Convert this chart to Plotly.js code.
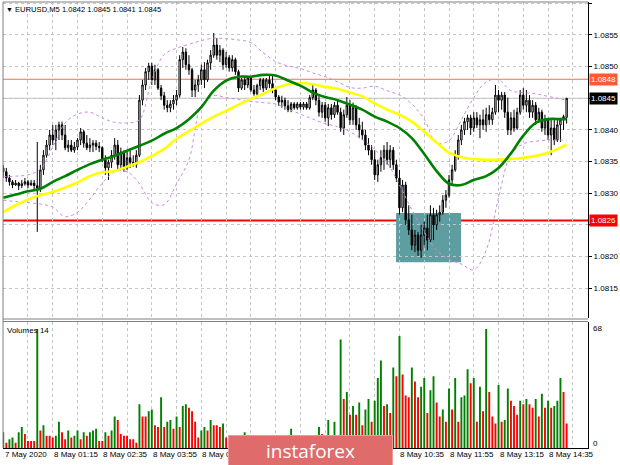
<!DOCTYPE html>
<html><head><meta charset="utf-8">
<script src="https://cdn.plot.ly/plotly-3.0.1.min.js"></script>
<style>html,body{margin:0;padding:0;background:#fff;}#chart{width:620px;height:465px;}</style>
</head><body><div id="chart"></div>
<script>
// EURUSD M5 — bar index 0 = 8 May 00:35, first bar (-8) = 7 May 23:55
const firstBar = -8;
const open = [
1.08340,1.08334,1.08324,1.08318,1.08313,1.08316,1.08312,1.08315,1.08318,1.08313,
1.08316,1.08312,1.08308,1.08337,1.08360,1.08376,1.08392,1.08384,1.08400,1.08408,
1.08392,1.08372,1.08376,1.08368,1.08373,1.08384,1.08397,1.08379,1.08372,1.08376,
1.08379,1.08374,1.08372,1.08353,1.08340,1.08349,1.08360,1.08376,1.08345,1.08365,
1.08340,1.08356,1.08349,1.08345,1.08360,1.08447,1.08471,1.08492,1.08501,1.08479,
1.08495,1.08466,1.08454,1.08439,1.08435,1.08441,1.08447,1.08455,1.08511,1.08523,
1.08503,1.08495,1.08463,1.08471,1.08479,1.08495,1.08479,1.08506,1.08518,1.08534,
1.08518,1.08526,1.08503,1.08514,1.08498,1.08511,1.08492,1.08466,1.08479,1.08471,
1.08482,1.08463,1.08457,1.08470,1.08479,1.08466,1.08479,1.08473,1.08463,1.08452,
1.08444,1.08447,1.08438,1.08432,1.08441,1.08435,1.08441,1.08436,1.08441,1.08435,
1.08451,1.08463,1.08447,1.08428,1.08439,1.08419,1.08435,1.08424,1.08439,1.08428,
1.08403,1.08424,1.08439,1.08416,1.08435,1.08408,1.08400,1.08392,1.08376,1.08368,
1.08353,1.08329,1.08345,1.08356,1.08368,1.08353,1.08368,1.08345,1.08324,1.08277,
1.08313,1.08258,1.08242,1.08218,1.08234,1.08210,1.08234,1.08245,1.08226,1.08266,
1.08250,1.08266,1.08270,1.08289,1.08297,1.08321,1.08337,1.08360,1.08384,1.08400,
1.08413,1.08419,1.08403,1.08419,1.08408,1.08416,1.08408,1.08424,1.08416,1.08428,
1.08455,1.08447,1.08455,1.08428,1.08400,1.08419,1.08403,1.08428,1.08455,1.08439,
1.08447,1.08428,1.08439,1.08416,1.08428,1.08403,1.08416,1.08392,1.08403,1.08384,
1.08408,1.08416,1.08420];
const high = [
1.08345,1.08340,1.08329,1.08321,1.08321,1.08318,1.08321,1.08324,1.08321,1.08321,
1.08321,1.08381,1.08345,1.08368,1.08384,1.08400,1.08408,1.08408,1.08413,1.08413,
1.08408,1.08384,1.08384,1.08381,1.08387,1.08403,1.08400,1.08392,1.08387,1.08384,
1.08384,1.08381,1.08374,1.08360,1.08353,1.08368,1.08387,1.08384,1.08372,1.08368,
1.08365,1.08368,1.08360,1.08368,1.08455,1.08479,1.08498,1.08506,1.08506,1.08503,
1.08498,1.08471,1.08460,1.08447,1.08447,1.08455,1.08463,1.08518,1.08531,1.08529,
1.08518,1.08498,1.08479,1.08487,1.08503,1.08507,1.08511,1.08526,1.08553,1.08545,
1.08534,1.08529,1.08523,1.08518,1.08518,1.08514,1.08495,1.08482,1.08485,1.08485,
1.08485,1.08471,1.08473,1.08482,1.08482,1.08482,1.08485,1.08485,1.08466,1.08455,
1.08454,1.08451,1.08447,1.08444,1.08444,1.08444,1.08444,1.08444,1.08444,1.08455,
1.08471,1.08466,1.08454,1.08444,1.08444,1.08441,1.08441,1.08444,1.08447,1.08435,
1.08432,1.08452,1.08447,1.08443,1.08439,1.08419,1.08413,1.08400,1.08387,1.08376,
1.08368,1.08353,1.08368,1.08376,1.08381,1.08376,1.08373,1.08353,1.08337,1.08321,
1.08318,1.08281,1.08266,1.08242,1.08239,1.08250,1.08255,1.08266,1.08281,1.08277,
1.08274,1.08281,1.08297,1.08305,1.08329,1.08345,1.08368,1.08392,1.08408,1.08419,
1.08424,1.08424,1.08428,1.08428,1.08424,1.08432,1.08435,1.08439,1.08435,1.08471,
1.08463,1.08460,1.08460,1.08451,1.08428,1.08432,1.08435,1.08463,1.08466,1.08463,
1.08455,1.08447,1.08444,1.08435,1.08432,1.08424,1.08419,1.08416,1.08419,1.08416,
1.08419,1.08424,1.08450];
const low = [
1.08324,1.08318,1.08312,1.08308,1.08312,1.08305,1.08308,1.08312,1.08308,1.08312,
1.08305,1.08239,1.08302,1.08329,1.08356,1.08368,1.08376,1.08368,1.08384,1.08384,
1.08368,1.08365,1.08365,1.08364,1.08368,1.08376,1.08372,1.08368,1.08365,1.08365,
1.08368,1.08365,1.08349,1.08329,1.08321,1.08340,1.08353,1.08337,1.08337,1.08334,
1.08337,1.08340,1.08342,1.08340,1.08357,1.08439,1.08463,1.08479,1.08471,1.08471,
1.08463,1.08447,1.08432,1.08428,1.08428,1.08432,1.08439,1.08451,1.08498,1.08495,
1.08487,1.08452,1.08452,1.08460,1.08471,1.08466,1.08476,1.08495,1.08514,1.08511,
1.08507,1.08495,1.08498,1.08492,1.08492,1.08487,1.08460,1.08463,1.08463,1.08466,
1.08460,1.08454,1.08454,1.08463,1.08460,1.08463,1.08466,1.08458,1.08447,1.08438,
1.08435,1.08432,1.08428,1.08428,1.08432,1.08432,1.08432,1.08432,1.08432,1.08432,
1.08447,1.08439,1.08421,1.08419,1.08413,1.08406,1.08416,1.08419,1.08424,1.08397,
1.08392,1.08419,1.08408,1.08408,1.08400,1.08387,1.08384,1.08368,1.08360,1.08345,
1.08321,1.08318,1.08334,1.08337,1.08345,1.08340,1.08337,1.08318,1.08266,1.08270,
1.08250,1.08234,1.08210,1.08207,1.08201,1.08198,1.08218,1.08210,1.08223,1.08226,
1.08242,1.08255,1.08266,1.08277,1.08293,1.08313,1.08334,1.08353,1.08376,1.08392,
1.08400,1.08392,1.08397,1.08403,1.08387,1.08400,1.08397,1.08408,1.08408,1.08424,
1.08428,1.08432,1.08419,1.08392,1.08392,1.08397,1.08400,1.08424,1.08432,1.08428,
1.08419,1.08419,1.08408,1.08413,1.08397,1.08392,1.08384,1.08360,1.08376,1.08381,
1.08381,1.08400,1.08410];
const close = [
1.08334,1.08324,1.08318,1.08313,1.08316,1.08312,1.08315,1.08318,1.08313,1.08316,
1.08312,1.08308,1.08337,1.08360,1.08376,1.08392,1.08384,1.08400,1.08408,1.08392,
1.08372,1.08376,1.08368,1.08373,1.08384,1.08397,1.08379,1.08372,1.08376,1.08379,
1.08374,1.08372,1.08353,1.08340,1.08349,1.08360,1.08376,1.08345,1.08365,1.08340,
1.08356,1.08349,1.08345,1.08360,1.08447,1.08471,1.08492,1.08501,1.08479,1.08495,
1.08466,1.08454,1.08439,1.08435,1.08441,1.08447,1.08455,1.08511,1.08523,1.08503,
1.08495,1.08463,1.08471,1.08479,1.08495,1.08479,1.08506,1.08518,1.08534,1.08518,
1.08526,1.08503,1.08514,1.08498,1.08511,1.08492,1.08466,1.08479,1.08471,1.08482,
1.08463,1.08457,1.08470,1.08479,1.08466,1.08479,1.08473,1.08463,1.08452,1.08444,
1.08447,1.08438,1.08432,1.08441,1.08435,1.08441,1.08436,1.08441,1.08435,1.08451,
1.08463,1.08447,1.08428,1.08439,1.08419,1.08435,1.08424,1.08439,1.08428,1.08403,
1.08424,1.08439,1.08416,1.08435,1.08408,1.08400,1.08392,1.08376,1.08368,1.08353,
1.08329,1.08345,1.08356,1.08368,1.08353,1.08368,1.08345,1.08324,1.08277,1.08313,
1.08258,1.08242,1.08218,1.08234,1.08210,1.08234,1.08245,1.08226,1.08266,1.08250,
1.08266,1.08270,1.08289,1.08297,1.08321,1.08337,1.08360,1.08384,1.08400,1.08413,
1.08419,1.08403,1.08419,1.08408,1.08416,1.08408,1.08424,1.08416,1.08428,1.08455,
1.08447,1.08455,1.08428,1.08400,1.08419,1.08403,1.08428,1.08455,1.08439,1.08447,
1.08428,1.08439,1.08416,1.08428,1.08403,1.08416,1.08392,1.08403,1.08384,1.08408,
1.08416,1.08421,1.08450];
const volume = [
9,3,5,6,3,9,12,8,4,4,
4,68,10,13,7,7,6,7,15,9,
5,10,6,7,10,5,9,7,9,10,
11,4,4,9,7,10,18,16,8,7,
7,5,5,3,25,18,18,21,22,13,
12,29,12,15,16,11,18,12,24,25,
23,21,15,6,10,12,10,16,13,13,
12,14,6,4,3,5,2,4,9,3,
2,4,3,2,3,5,2,3,4,2,
3,5,3,11,4,2,3,2,4,6,
5,3,12,8,5,16,6,15,6,62,
28,32,19,24,19,26,13,22,28,15,
27,40,50,24,25,20,46,41,64,42,
30,29,46,38,29,35,40,20,33,41,
26,18,22,15,34,22,40,15,29,30,
45,37,40,15,35,21,68,32,18,14,
36,15,16,34,27,24,19,27,25,28,
25,23,28,18,31,23,27,23,24,27,
40,32,14];
// indicator lines, read at these bar indices
const lineIdx = [-8,-4,0,4,8,12,16,20,24,28,32,36,40,44,48,52,56,60,64,68,72,76,80,84,88,92,96,100,104,108,112,116,120,124,128,132,136,140,144,148,152,156,160,164,168,172,174];
const maGreen = [1.08293,1.08298,1.08303,1.08307,1.08318,1.08327,1.08337,1.08346,1.08353,1.08359,1.08367,1.08375,1.08383,1.08394,1.08403,1.08417,1.08436,1.08462,1.08478,1.08484,1.08484,1.08487,1.08486,1.08478,1.08470,1.08459,1.08452,1.08447,1.08440,1.08432,1.08421,1.08413,1.08403,1.08387,1.08362,1.08335,1.08315,1.08313,1.08321,1.08327,1.08340,1.08363,1.08391,1.08411,1.08417,1.08417,1.08417];
const maYellow = [1.08270,1.08281,1.08290,1.08297,1.08302,1.08309,1.08317,1.08327,1.08333,1.08335,1.08342,1.08349,1.08359,1.08370,1.08386,1.08398,1.08410,1.08421,1.08430,1.08440,1.08449,1.08457,1.08466,1.08472,1.08474,1.08472,1.08468,1.08465,1.08459,1.08453,1.08442,1.08432,1.08424,1.08413,1.08397,1.08380,1.08364,1.08357,1.08354,1.08353,1.08353,1.08354,1.08356,1.08359,1.08364,1.08372,1.08377];
const bbUpper = [1.08326,1.08327,1.08329,1.08338,1.08373,1.08411,1.08425,1.08428,1.08419,1.08412,1.08411,1.08416,1.08479,1.08519,1.08529,1.08535,1.08541,1.08545,1.08544,1.08542,1.08538,1.08522,1.08508,1.08501,1.08497,1.08490,1.08484,1.08476,1.08467,1.08466,1.08469,1.08462,1.08455,1.08441,1.08417,1.08379,1.08383,1.08416,1.08451,1.08476,1.08479,1.08462,1.08459,1.08457,1.08453,1.08449,1.08447];
const bbLower = [1.08289,1.08287,1.08285,1.08283,1.08278,1.08263,1.08270,1.08291,1.08316,1.08334,1.08334,1.08315,1.08285,1.08282,1.08315,1.08353,1.08438,1.08454,1.08451,1.08448,1.08445,1.08443,1.08441,1.08433,1.08425,1.08417,1.08410,1.08405,1.08397,1.08385,1.08369,1.08348,1.08313,1.08274,1.08239,1.08210,1.08196,1.08188,1.08179,1.08210,1.08293,1.08361,1.08378,1.08382,1.08384,1.08384,1.08384];
const priceTicks = [1.0815,1.0820,1.0825,1.0830,1.0835,1.0840,1.0845,1.0850,1.0855,1.0860];
// time labels visible on the axis (the others sit under the banner)
const timeLabels = ["7 May 2020","8 May 01:15","8 May 02:35","8 May 03:55","8 May 05:15","8 May 10:35","8 May 11:55","8 May 13:15","8 May 14:35"];
const timeLabelBars = [-8,8,24,40,56,120,136,152,168];
const resistance = 1.0848, bid = 1.0845, support = 1.08257;
const zone = {from:118.9, to:139.9, top:1.08269, bottom:1.08191};
const header = "EURUSD,M5 1.0842 1.0845 1.0841 1.0845";

const idx = open.map((_, k) => firstBar + k);
const volColors = volume.map((v, k) => (k === 0 || v > volume[k-1]) ? '#008000' : '#ff0000');
const F = 'Liberation Sans, Arial, sans-serif';

const traces = [
  {type:'candlestick', x:idx, open:open, high:high, low:low, close:close, xaxis:'x', yaxis:'y',
   increasing:{line:{color:'#000000', width:1}, fillcolor:'#ffffff'},
   decreasing:{line:{color:'#000000', width:1}, fillcolor:'#000000'},
   whiskerwidth:0, hoverinfo:'skip'},
  {type:'scatter', mode:'lines', x:lineIdx, y:bbUpper, line:{color:'#c98ae0', width:1, dash:'3px,3px', shape:'spline'}, hoverinfo:'skip'},
  {type:'scatter', mode:'lines', x:lineIdx, y:bbLower, line:{color:'#c98ae0', width:1, dash:'3px,3px', shape:'spline'}, hoverinfo:'skip'},
  {type:'scatter', mode:'lines', x:lineIdx, y:maYellow, line:{color:'#ffff00', width:2.6, shape:'spline'}, hoverinfo:'skip'},
  {type:'scatter', mode:'lines', x:lineIdx, y:maGreen, line:{color:'#008000', width:2.6, shape:'spline'}, hoverinfo:'skip'},
  {type:'bar', x:idx, y:volume, xaxis:'x2', yaxis:'y2', width:0.62, marker:{color:volColors, line:{width:0}}, hoverinfo:'skip'}
];

const pyPix = p => (448 - p) / 446; // pixel row -> paper y

const shapes = [
  {type:'rect', xref:'x', yref:'y', x0:zone.from, x1:zone.to, y0:zone.bottom, y1:zone.top, fillcolor:'#5f9ea0', line:{width:0}, layer:'below'},
  {type:'line', xref:'paper', yref:'y', x0:0, x1:1, y0:resistance, y1:resistance, line:{color:'#ff6a4a', width:1}, layer:'below'},
  {type:'line', xref:'paper', yref:'y', x0:0, x1:1, y0:bid, y1:bid, line:{color:'#c0c0c0', width:1}, layer:'below'},
  {type:'line', xref:'paper', yref:'y', x0:0, x1:1, y0:support, y1:support, line:{color:'#ff0000', width:2}, layer:'below'},
  {type:'line', xref:'paper', yref:'paper', x0:0, x1:1, y0:pyPix(319), y1:pyPix(319), line:{color:'#808080', width:1.2}},
  {type:'line', xref:'paper', yref:'paper', x0:0, x1:1, y0:pyPix(321.5), y1:pyPix(321.5), line:{color:'#808080', width:1.2}},
  {type:'line', xref:'paper', yref:'paper', x0:0, x1:0, y0:0, y1:1, line:{color:'#808080', width:1}},
  {type:'line', xref:'paper', yref:'paper', x0:0, x1:1, y0:1, y1:1, line:{color:'#808080', width:1}}
];

const annotations = [];
annotations.push({xref:'paper', yref:'paper', x:0, y:1, xanchor:'left', yanchor:'top', xshift:1, yshift:-1, showarrow:false,
  text:'<span style="font-size:7px">▼</span> ' + header, font:{family:F, size:7.6, color:'#000'}});
annotations.push({xref:'paper', yref:'y2', x:0, y:72, xanchor:'left', yanchor:'top', xshift:2, yshift:-2, showarrow:false,
  text:'Volumes ' + volume[volume.length-1], font:{family:F, size:8, color:'#000'}});
annotations.push({xref:'paper', yref:'y2', x:1, y:68, xanchor:'left', yanchor:'middle', xshift:3, yshift:1, showarrow:false, text:'68', font:{family:F, size:8, color:'#000'}});
annotations.push({xref:'paper', yref:'y2', x:1, y:0, xanchor:'left', yanchor:'middle', xshift:3, yshift:5, showarrow:false, text:'0', font:{family:F, size:8, color:'#000'}});
annotations.push({xref:'paper', yref:'y', x:1, y:resistance, xanchor:'left', yanchor:'middle', xshift:1, showarrow:false, text:resistance.toFixed(4), bgcolor:'#ff5a36', borderpad:1, font:{family:F, size:8, color:'#fff'}});
annotations.push({xref:'paper', yref:'y', x:1, y:bid, xanchor:'left', yanchor:'middle', xshift:1, showarrow:false, text:bid.toFixed(4), bgcolor:'#000000', borderpad:1, font:{family:F, size:8, color:'#fff'}});
annotations.push({xref:'paper', yref:'y', x:1, y:support, xanchor:'left', yanchor:'middle', xshift:1, showarrow:false, text:support.toFixed(4), bgcolor:'#ff0000', borderpad:1, font:{family:F, size:8, color:'#fff'}});
timeLabels.forEach((t, k) => {
  annotations.push({xref:'x2', yref:'paper', x:timeLabelBars[k], y:pyPix(455), xanchor:'left', yanchor:'middle', xshift:(k===0?0:-1), showarrow:false, text:t, font:{family:F, size:8, color:'#000'}});
});
annotations.push({xref:'paper', yref:'paper', x:(310.5-3)/585, y:pyPix(451), xanchor:'center', yanchor:'middle', showarrow:false,
  text:'instaforex', width:163, height:30, bgcolor:'#e06b6b', bordercolor:'#ea9a9a', borderwidth:1, borderpad:0,
  font:{family:'Open Sans, Liberation Sans, sans-serif', size:19, color:'#ffffff'}});

const gridX = {showgrid:true, gridcolor:'#c4c4c4', griddash:'dot', gridwidth:1, dtick:8, tick0:0, tickmode:'linear',
  showticklabels:false, ticks:'', zeroline:false, range:[-8.07, 180.9], fixedrange:true};

// price labels hidden behind the coloured level boxes are left blank
const coveredTicks = [1.0845, 1.0825];

const layout = {
  width:620, height:465, margin:{l:3, r:32, t:2, b:17},
  paper_bgcolor:'#ffffff', plot_bgcolor:'#ffffff', showlegend:false, boxgap:0.35,
  font:{family:F, size:8, color:'#000'},
  xaxis: Object.assign({}, gridX, {anchor:'y', rangeslider:{visible:false}}),
  xaxis2: Object.assign({}, gridX, {anchor:'y2', matches:'x', showline:true, linecolor:'#000', linewidth:1}),
  yaxis:{domain:[pyPix(318), 1], range:[1.08103, 1.08602], side:'right', tickmode:'array', tickvals:priceTicks,
    ticktext:priceTicks.map(v => coveredTicks.includes(v) ? '' : v.toFixed(4)), showgrid:true, gridcolor:'#c4c4c4', griddash:'dot', zeroline:false,
    ticks:'outside', ticklen:3, tickcolor:'#000', showline:true, linecolor:'#000', linewidth:1,
    tickfont:{family:F, size:8, color:'#000'}, fixedrange:true},
  yaxis2:{domain:[0, pyPix(322)], range:[0, 72], side:'right', showgrid:false, zeroline:false, showticklabels:false,
    ticks:'', showline:true, linecolor:'#000', linewidth:1, fixedrange:true},
  shapes:shapes, annotations:annotations
};

Plotly.newPlot('chart', traces, layout, {staticPlot:true, displayModeBar:false});
</script></body></html>
